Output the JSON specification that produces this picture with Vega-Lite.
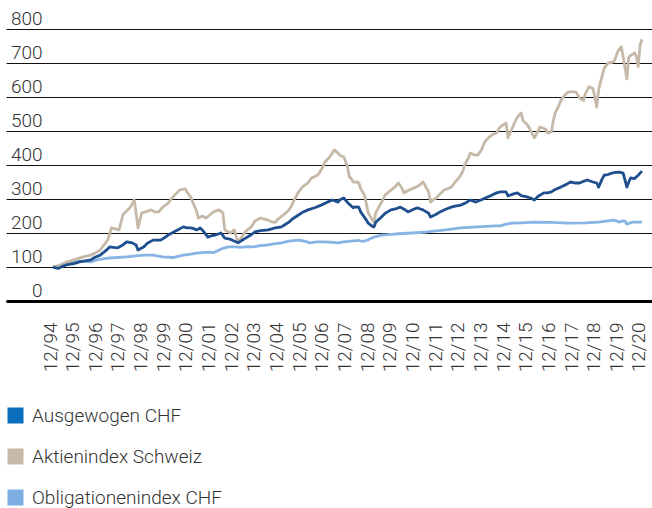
{
"$schema": "https://vega.github.io/schema/vega-lite/v6.json",
"width": 646, "height": 272,
"autosize": "none",
"padding": {"left": 6, "top": 29, "right": 0, "bottom": 207},
"background": "white",
"config": {"view": {"stroke": null}, "font": "Roboto"},
"datasets": {
"obl": [{"m":0,"v":100},{"m":4,"v":104},{"m":7,"v":109},{"m":11,"v":115},{"m":16,"v":117},{"m":20,"v":115},{"m":24,"v":122},{"m":29,"v":126},{"m":34,"v":128},{"m":39,"v":130},{"m":44,"v":133},{"m":48,"v":135},{"m":53,"v":135},{"m":58,"v":130},{"m":64,"v":128},{"m":69,"v":135},{"m":73,"v":138},{"m":76,"v":141},{"m":82,"v":144},{"m":85,"v":142},{"m":88,"v":150},{"m":90,"v":155},{"m":93,"v":159},{"m":97,"v":159},{"m":99,"v":158},{"m":103,"v":160},{"m":106,"v":159},{"m":110,"v":163},{"m":114,"v":165},{"m":117,"v":168},{"m":121,"v":171},{"m":125,"v":176},{"m":130,"v":179},{"m":134,"v":175},{"m":136,"v":171},{"m":140,"v":174},{"m":143,"v":174},{"m":147,"v":173},{"m":151,"v":171},{"m":154,"v":174},{"m":158,"v":176},{"m":162,"v":178},{"m":164,"v":175},{"m":167,"v":180},{"m":170,"v":188},{"m":174,"v":194},{"m":177,"v":195},{"m":181,"v":197},{"m":190,"v":200},{"m":198,"v":203},{"m":208,"v":209},{"m":216,"v":215},{"m":225,"v":218},{"m":234,"v":221},{"m":237,"v":221},{"m":240,"v":226},{"m":243,"v":229},{"m":248,"v":230},{"m":255,"v":232},{"m":264,"v":231},{"m":273,"v":229},{"m":282,"v":230},{"m":289,"v":232},{"m":293,"v":235},{"m":297,"v":238},{"m":299,"v":234},{"m":300,"v":232},{"m":302,"v":236},{"m":303,"v":235},{"m":304,"v":226},{"m":306,"v":230},{"m":307,"v":232},{"m":312,"v":232}],
"akt": [{"m":0,"v":100},{"m":3,"v":104},{"m":6,"v":112},{"m":11,"v":121},{"m":16,"v":130},{"m":20,"v":135},{"m":22,"v":140},{"m":25,"v":150},{"m":29,"v":180},{"m":31,"v":215},{"m":35,"v":209},{"m":37,"v":253},{"m":39,"v":265},{"m":41,"v":276},{"m":43,"v":297},{"m":44,"v":260},{"m":45,"v":215},{"m":47,"v":259},{"m":49,"v":262},{"m":52,"v":268},{"m":54,"v":262},{"m":56,"v":262},{"m":58,"v":275},{"m":61,"v":288},{"m":63,"v":303},{"m":65,"v":315},{"m":67,"v":326},{"m":70,"v":330},{"m":71,"v":320},{"m":73,"v":305},{"m":74,"v":291},{"m":76,"v":265},{"m":77,"v":244},{"m":79,"v":250},{"m":81,"v":244},{"m":83,"v":253},{"m":85,"v":262},{"m":88,"v":268},{"m":90,"v":259},{"m":91,"v":209},{"m":94,"v":200},{"m":96,"v":209},{"m":97,"v":190},{"m":98,"v":174},{"m":100,"v":188},{"m":102,"v":205},{"m":105,"v":218},{"m":107,"v":235},{"m":110,"v":244},{"m":114,"v":238},{"m":116,"v":232},{"m":118,"v":232},{"m":119,"v":240},{"m":122,"v":253},{"m":124,"v":262},{"m":126,"v":276},{"m":128,"v":300},{"m":130,"v":320},{"m":132,"v":335},{"m":135,"v":347},{"m":137,"v":362},{"m":140,"v":370},{"m":141,"v":376},{"m":143,"v":395},{"m":144,"v":409},{"m":146,"v":420},{"m":148,"v":435},{"m":149,"v":444},{"m":150,"v":440},{"m":151,"v":435},{"m":152,"v":428},{"m":154,"v":424},{"m":156,"v":395},{"m":157,"v":365},{"m":158,"v":360},{"m":159,"v":350},{"m":161,"v":350},{"m":162,"v":347},{"m":163,"v":330},{"m":165,"v":312},{"m":166,"v":285},{"m":167,"v":259},{"m":169,"v":240},{"m":170,"v":232},{"m":171,"v":260},{"m":174,"v":290},{"m":176,"v":312},{"m":179,"v":326},{"m":181,"v":335},{"m":183,"v":347},{"m":185,"v":330},{"m":186,"v":318},{"m":188,"v":325},{"m":191,"v":332},{"m":194,"v":340},{"m":196,"v":350},{"m":197,"v":341},{"m":199,"v":320},{"m":200,"v":291},{"m":202,"v":300},{"m":203,"v":303},{"m":205,"v":315},{"m":207,"v":326},{"m":209,"v":330},{"m":211,"v":335},{"m":213,"v":350},{"m":215,"v":362},{"m":217,"v":380},{"m":218,"v":400},{"m":220,"v":420},{"m":221,"v":435},{"m":223,"v":430},{"m":225,"v":429},{"m":227,"v":445},{"m":228,"v":459},{"m":229,"v":470},{"m":231,"v":482},{"m":233,"v":490},{"m":235,"v":494},{"m":236,"v":505},{"m":237,"v":512},{"m":239,"v":520},{"m":240,"v":523},{"m":241,"v":480},{"m":243,"v":505},{"m":245,"v":530},{"m":246,"v":541},{"m":248,"v":553},{"m":249,"v":530},{"m":251,"v":520},{"m":252,"v":512},{"m":254,"v":490},{"m":255,"v":480},{"m":257,"v":500},{"m":258,"v":512},{"m":261,"v":505},{"m":262,"v":494},{"m":264,"v":497},{"m":265,"v":530},{"m":266,"v":553},{"m":268,"v":575},{"m":269,"v":590},{"m":271,"v":605},{"m":273,"v":615},{"m":275,"v":615},{"m":277,"v":615},{"m":279,"v":597},{"m":281,"v":590},{"m":282,"v":610},{"m":284,"v":630},{"m":286,"v":625},{"m":287,"v":600},{"m":288,"v":570},{"m":289,"v":620},{"m":290,"v":644},{"m":292,"v":685},{"m":294,"v":700},{"m":297,"v":703},{"m":298,"v":715},{"m":299,"v":732},{"m":301,"v":748},{"m":302,"v":720},{"m":304,"v":653},{"m":305,"v":718},{"m":308,"v":730},{"m":309,"v":720},{"m":310,"v":690},{"m":311,"v":753},{"m":312,"v":770}],
"aus": [{"m":0,"v":100},{"m":1,"v":98},{"m":3,"v":96},{"m":5,"v":102},{"m":7,"v":106},{"m":11,"v":110},{"m":14,"v":115},{"m":17,"v":118},{"m":20,"v":121},{"m":22,"v":128},{"m":25,"v":135},{"m":28,"v":148},{"m":30,"v":159},{"m":34,"v":156},{"m":37,"v":165},{"m":39,"v":174},{"m":42,"v":171},{"m":44,"v":165},{"m":45,"v":150},{"m":48,"v":159},{"m":50,"v":170},{"m":53,"v":179},{"m":57,"v":179},{"m":59,"v":186},{"m":61,"v":194},{"m":64,"v":203},{"m":66,"v":209},{"m":69,"v":218},{"m":71,"v":215},{"m":73,"v":215},{"m":75,"v":212},{"m":76,"v":209},{"m":78,"v":215},{"m":80,"v":203},{"m":82,"v":188},{"m":84,"v":192},{"m":86,"v":194},{"m":89,"v":200},{"m":91,"v":185},{"m":93,"v":183},{"m":95,"v":179},{"m":98,"v":171},{"m":100,"v":178},{"m":102,"v":185},{"m":105,"v":195},{"m":107,"v":203},{"m":110,"v":207},{"m":114,"v":209},{"m":117,"v":214},{"m":121,"v":218},{"m":123,"v":225},{"m":125,"v":232},{"m":127,"v":242},{"m":130,"v":253},{"m":132,"v":260},{"m":135,"v":268},{"m":139,"v":275},{"m":142,"v":282},{"m":145,"v":290},{"m":148,"v":297},{"m":150,"v":293},{"m":151,"v":291},{"m":152,"v":298},{"m":154,"v":303},{"m":156,"v":290},{"m":159,"v":274},{"m":160,"v":277},{"m":162,"v":276},{"m":163,"v":262},{"m":166,"v":238},{"m":167,"v":229},{"m":169,"v":220},{"m":170,"v":218},{"m":171,"v":232},{"m":174,"v":247},{"m":176,"v":258},{"m":179,"v":268},{"m":182,"v":272},{"m":184,"v":276},{"m":186,"v":270},{"m":188,"v":262},{"m":191,"v":270},{"m":193,"v":274},{"m":195,"v":270},{"m":196,"v":268},{"m":199,"v":258},{"m":200,"v":247},{"m":203,"v":255},{"m":205,"v":262},{"m":208,"v":270},{"m":211,"v":276},{"m":213,"v":279},{"m":216,"v":282},{"m":219,"v":290},{"m":221,"v":297},{"m":224,"v":291},{"m":227,"v":298},{"m":229,"v":303},{"m":232,"v":310},{"m":235,"v":318},{"m":237,"v":321},{"m":240,"v":321},{"m":241,"v":309},{"m":244,"v":315},{"m":246,"v":318},{"m":248,"v":310},{"m":251,"v":306},{"m":253,"v":303},{"m":255,"v":297},{"m":257,"v":308},{"m":260,"v":318},{"m":262,"v":318},{"m":264,"v":321},{"m":266,"v":328},{"m":269,"v":335},{"m":272,"v":343},{"m":274,"v":350},{"m":277,"v":347},{"m":279,"v":347},{"m":281,"v":352},{"m":283,"v":356},{"m":286,"v":350},{"m":288,"v":347},{"m":289,"v":335},{"m":291,"v":360},{"m":292,"v":370},{"m":294,"v":372},{"m":296,"v":376},{"m":298,"v":378},{"m":300,"v":379},{"m":302,"v":376},{"m":304,"v":335},{"m":305,"v":350},{"m":306,"v":362},{"m":308,"v":360},{"m":309,"v":365},{"m":310,"v":370},{"m":311,"v":376},{"m":312,"v":382}],
"leg": [{"serie":"Ausgewogen CHF","m":0,"v":100},{"serie":"Aktienindex Schweiz","m":0,"v":100},{"serie":"Obligationenindex CHF","m":0,"v":100}]
},
"encoding": {
"x": {"field": "m", "type": "quantitative", "scale": {"domain": [-24.9, 317.3], "nice": false, "zero": false},
"axis": {"values": [0,12,24,36,48,60,72,84,96,108,120,132,144,156,168,180,192,204,216,228,240,252,264,276,288,300,312],
"labelExpr": "'12/' + slice('0' + ((94 + datum.value/12) % 100), -2)",
"title": null, "grid": false, "ticks": false, "domain": true, "domainColor": "#000", "domainWidth": 3,
"labelAngle": -90, "labelPadding": 21, "labelOffset": -3, "labelFontSize": 19, "labelFontWeight": 300, "labelColor": "#333", "labelOverlap": false, "labelBound": false, "labelFlush": false}},
"y": {"field": "v", "type": "quantitative", "scale": {"domain": [0, 800], "nice": false},
"axis": {"values": [0,100,200,300,400,500,600,700,800], "title": null, "grid": true, "gridColor": "#111", "gridWidth": 1,
"domain": false, "ticks": false, "labelAlign": "right", "labelBaseline": "alphabetic", "labelPadding": -36, "labelOffset": -5,
"labelFontSize": 19, "labelFontWeight": 300, "labelColor": "#333"}}
},
"layer": [
{"data": {"name": "obl"}, "mark": {"type": "line", "strokeWidth": 2.8, "strokeJoin": "round", "color": "#87b4e4"}},
{"data": {"name": "akt"}, "mark": {"type": "line", "strokeWidth": 2.8, "strokeJoin": "round", "color": "#c7b9a9"}},
{"data": {"name": "aus"}, "mark": {"type": "line", "strokeWidth": 2.8, "strokeJoin": "round", "color": "#1f4f8e"}},
{"data": {"name": "leg"}, "mark": {"type": "point", "shape": "square", "filled": true, "opacity": 0},
 "encoding": {"fill": {"field": "serie", "type": "nominal",
  "scale": {"domain": ["Ausgewogen CHF", "Aktienindex Schweiz", "Obligationenindex CHF"], "range": ["#0b6ebd", "#c6b9a9", "#7fafe2"]},
  "legend": {"orient": "none", "legendX": 0, "legendY": 377, "direction": "vertical", "title": null,
   "symbolType": "square", "symbolSize": 256, "symbolOpacity": 1, "symbolStrokeWidth": 0,
   "labelFontSize": 19, "labelFontWeight": 300, "labelColor": "#333", "labelOffset": 7, "labelLimit": 500, "rowPadding": 21, "padding": 0}}}}
]
}
